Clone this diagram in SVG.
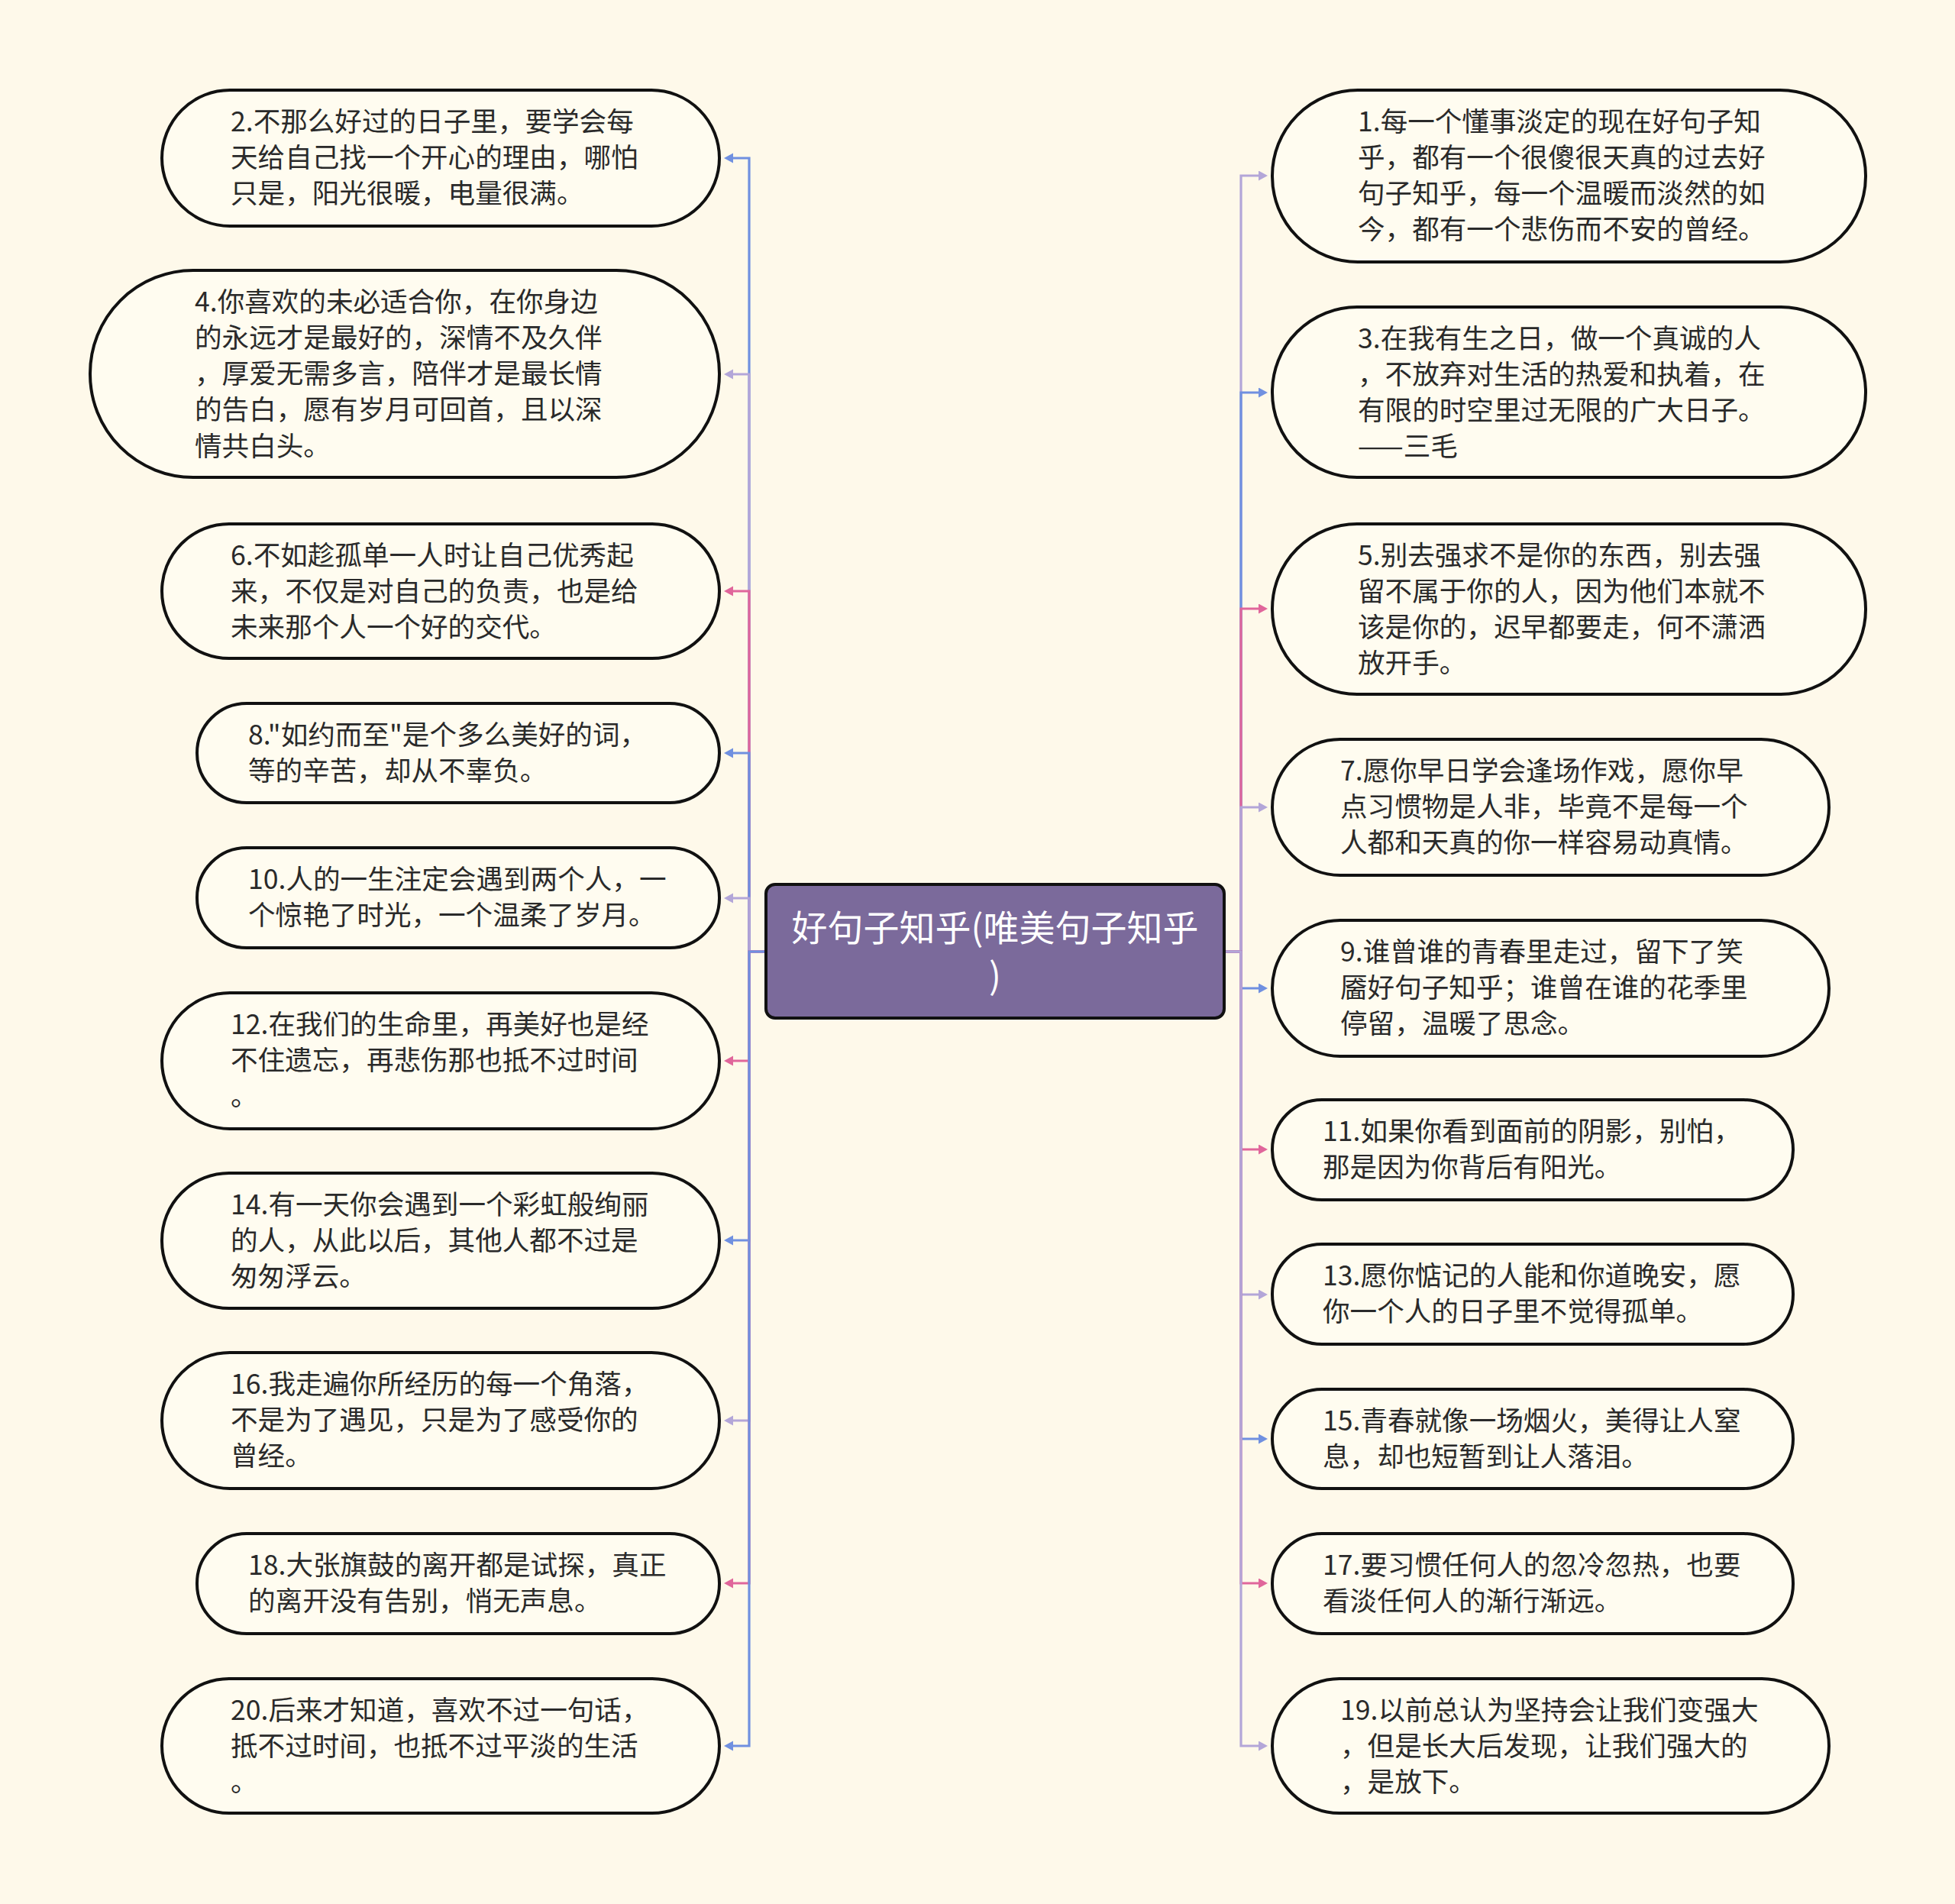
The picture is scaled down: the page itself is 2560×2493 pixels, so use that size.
<svg xmlns="http://www.w3.org/2000/svg" width="2560" height="2493" viewBox="0 0 2560 2493">
<defs>
<style>
.bg{fill:#fef9ea}
.node{fill:#fffcf0;stroke:#111;stroke-width:4}
.t{font-family:"Noto Sans CJK SC","Noto Sans",sans-serif;font-size:35.6px;fill:#2a2a2a}
.center rect{fill:#7b6a9b;stroke:#111;stroke-width:4}
.ct{font-family:"Noto Sans CJK SC","Noto Sans",sans-serif;font-size:47px;fill:#ffffff;text-anchor:middle}
.c{fill:none;stroke-width:3.2}
.blue{stroke:#7090e0}
.lav{stroke:#b3a6d8}
.pink{stroke:#e0669b}
</style>
<marker id="ab" markerUnits="userSpaceOnUse" markerWidth="13" markerHeight="14" refX="0" refY="6.5" orient="auto"><path d="M0,0 L12,6.5 L0,13 z" fill="#7090e0"/></marker>
<marker id="al" markerUnits="userSpaceOnUse" markerWidth="13" markerHeight="14" refX="0" refY="6.5" orient="auto"><path d="M0,0 L12,6.5 L0,13 z" fill="#b3a6d8"/></marker>
<marker id="ap" markerUnits="userSpaceOnUse" markerWidth="13" markerHeight="14" refX="0" refY="6.5" orient="auto"><path d="M0,0 L12,6.5 L0,13 z" fill="#e0669b"/></marker>
</defs>
<rect class="bg" x="0" y="0" width="2560" height="2493"/>
<g id="connectors">
<path class="c blue" marker-end="url(#ab)" d="M1003,1246 H981 V207 H960"/>
<path class="c lav" marker-end="url(#al)" d="M1003,1246 H981 V490 H960"/>
<path class="c pink" marker-end="url(#ap)" d="M1003,1246 H981 V774 H960"/>
<path class="c blue" marker-end="url(#ab)" d="M1003,1246 H981 V986 H960"/>
<path class="c lav" marker-end="url(#al)" d="M1003,1246 H981 V1176 H960"/>
<path class="c pink" marker-end="url(#ap)" d="M1003,1246 H981 V1389 H960"/>
<path class="c blue" marker-end="url(#ab)" d="M1003,1246 H981 V1624 H960"/>
<path class="c lav" marker-end="url(#al)" d="M1003,1246 H981 V1860 H960"/>
<path class="c pink" marker-end="url(#ap)" d="M1003,1246 H981 V2073 H960"/>
<path class="c blue" marker-end="url(#ab)" d="M1003,1246 H981 V2286 H960"/>
<path class="c lav" marker-end="url(#al)" d="M1603,1246 H1625 V230 H1648"/>
<path class="c blue" marker-end="url(#ab)" d="M1603,1246 H1625 V514 H1648"/>
<path class="c pink" marker-end="url(#ap)" d="M1603,1246 H1625 V797 H1648"/>
<path class="c lav" marker-end="url(#al)" d="M1603,1246 H1625 V1057 H1648"/>
<path class="c blue" marker-end="url(#ab)" d="M1603,1246 H1625 V1294 H1648"/>
<path class="c pink" marker-end="url(#ap)" d="M1603,1246 H1625 V1505 H1648"/>
<path class="c lav" marker-end="url(#al)" d="M1603,1246 H1625 V1695 H1648"/>
<path class="c blue" marker-end="url(#ab)" d="M1603,1246 H1625 V1884 H1648"/>
<path class="c pink" marker-end="url(#ap)" d="M1603,1246 H1625 V2073 H1648"/>
<path class="c lav" marker-end="url(#al)" d="M1603,1246 H1625 V2286 H1648"/>
</g>
<g id="center" class="center">
<rect x="1003" y="1158" width="600" height="175" rx="12"/>
<text class="ct" x="1303"><tspan x="1303" y="1232">好句子知乎(唯美句子知乎</tspan><tspan x="1303" y="1295">)</tspan></text>
</g>
<g id="n2"><rect class="node" x="212" y="118" width="730" height="178" rx="89"/>
<text class="t"><tspan x="302" y="171.5">2.不那么好过的日子里，要学会每</tspan><tspan x="302" y="218.8">天给自己找一个开心的理由，哪怕</tspan><tspan x="302" y="266.1">只是，阳光很暖，电量很满。</tspan></text></g>
<g id="n4"><rect class="node" x="118" y="354" width="824" height="271" rx="135"/>
<text class="t"><tspan x="255" y="407.5">4.你喜欢的未必适合你，在你身边</tspan><tspan x="255" y="454.8">的永远才是最好的，深情不及久伴</tspan><tspan x="255" y="502.1">，厚爱无需多言，陪伴才是最长情</tspan><tspan x="255" y="549.4">的告白，愿有岁月可回首，且以深</tspan><tspan x="255" y="596.7">情共白头。</tspan></text></g>
<g id="n6"><rect class="node" x="212" y="686" width="730" height="176" rx="88"/>
<text class="t"><tspan x="302" y="739.5">6.不如趁孤单一人时让自己优秀起</tspan><tspan x="302" y="786.8">来，不仅是对自己的负责，也是给</tspan><tspan x="302" y="834.1">未来那个人一个好的交代。</tspan></text></g>
<g id="n8"><rect class="node" x="258" y="921" width="684" height="130" rx="65"/>
<text class="t"><tspan x="325" y="974.5">8."如约而至"是个多么美好的词，</tspan><tspan x="325" y="1021.8">等的辛苦，却从不辜负。</tspan></text></g>
<g id="n10"><rect class="node" x="258" y="1110" width="684" height="131" rx="65"/>
<text class="t"><tspan x="325" y="1163.5">10.人的一生注定会遇到两个人，一</tspan><tspan x="325" y="1210.8">个惊艳了时光，一个温柔了岁月。</tspan></text></g>
<g id="n12"><rect class="node" x="212" y="1300" width="730" height="178" rx="89"/>
<text class="t"><tspan x="302" y="1353.5">12.在我们的生命里，再美好也是经</tspan><tspan x="302" y="1400.8">不住遗忘，再悲伤那也抵不过时间</tspan><tspan x="302" y="1448.1">。</tspan></text></g>
<g id="n14"><rect class="node" x="212" y="1536" width="730" height="177" rx="88"/>
<text class="t"><tspan x="302" y="1589.5">14.有一天你会遇到一个彩虹般绚丽</tspan><tspan x="302" y="1636.8">的人，从此以后，其他人都不过是</tspan><tspan x="302" y="1684.1">匆匆浮云。</tspan></text></g>
<g id="n16"><rect class="node" x="212" y="1771" width="730" height="178" rx="89"/>
<text class="t"><tspan x="302" y="1824.5">16.我走遍你所经历的每一个角落，</tspan><tspan x="302" y="1871.8">不是为了遇见，只是为了感受你的</tspan><tspan x="302" y="1919.1">曾经。</tspan></text></g>
<g id="n18"><rect class="node" x="258" y="2008" width="684" height="131" rx="65"/>
<text class="t"><tspan x="325" y="2061.5">18.大张旗鼓的离开都是试探，真正</tspan><tspan x="325" y="2108.8">的离开没有告别，悄无声息。</tspan></text></g>
<g id="n20"><rect class="node" x="212" y="2198" width="730" height="176" rx="88"/>
<text class="t"><tspan x="302" y="2251.5">20.后来才知道，喜欢不过一句话，</tspan><tspan x="302" y="2298.8">抵不过时间，也抵不过平淡的生活</tspan><tspan x="302" y="2346.1">。</tspan></text></g>
<g id="n1"><rect class="node" x="1666" y="118" width="777" height="225" rx="112"/>
<text class="t"><tspan x="1778" y="171.5">1.每一个懂事淡定的现在好句子知</tspan><tspan x="1778" y="218.8">乎，都有一个很傻很天真的过去好</tspan><tspan x="1778" y="266.1">句子知乎，每一个温暖而淡然的如</tspan><tspan x="1778" y="313.4">今，都有一个悲伤而不安的曾经。</tspan></text></g>
<g id="n3"><rect class="node" x="1666" y="402" width="777" height="223" rx="111"/>
<text class="t"><tspan x="1778" y="455.5">3.在我有生之日，做一个真诚的人</tspan><tspan x="1778" y="502.8">，不放弃对生活的热爱和执着，在</tspan><tspan x="1778" y="550.1">有限的时空里过无限的广大日子。</tspan><tspan x="1778" y="597.4">——三毛</tspan></text></g>
<g id="n5"><rect class="node" x="1666" y="686" width="777" height="223" rx="111"/>
<text class="t"><tspan x="1778" y="739.5">5.别去强求不是你的东西，别去强</tspan><tspan x="1778" y="786.8">留不属于你的人，因为他们本就不</tspan><tspan x="1778" y="834.1">该是你的，迟早都要走，何不潇洒</tspan><tspan x="1778" y="881.4">放开手。</tspan></text></g>
<g id="n7"><rect class="node" x="1666" y="968" width="729" height="178" rx="89"/>
<text class="t"><tspan x="1755" y="1021.5">7.愿你早日学会逢场作戏，愿你早</tspan><tspan x="1755" y="1068.8">点习惯物是人非，毕竟不是每一个</tspan><tspan x="1755" y="1116.1">人都和天真的你一样容易动真情。</tspan></text></g>
<g id="n9"><rect class="node" x="1666" y="1205" width="729" height="178" rx="89"/>
<text class="t"><tspan x="1755" y="1258.5">9.谁曾谁的青春里走过，留下了笑</tspan><tspan x="1755" y="1305.8">靥好句子知乎；谁曾在谁的花季里</tspan><tspan x="1755" y="1353.1">停留，温暖了思念。</tspan></text></g>
<g id="n11"><rect class="node" x="1666" y="1440" width="682" height="131" rx="65"/>
<text class="t"><tspan x="1732" y="1493.5">11.如果你看到面前的阴影，别怕，</tspan><tspan x="1732" y="1540.8">那是因为你背后有阳光。</tspan></text></g>
<g id="n13"><rect class="node" x="1666" y="1629" width="682" height="131" rx="65"/>
<text class="t"><tspan x="1732" y="1682.5">13.愿你惦记的人能和你道晚安，愿</tspan><tspan x="1732" y="1729.8">你一个人的日子里不觉得孤单。</tspan></text></g>
<g id="n15"><rect class="node" x="1666" y="1819" width="682" height="130" rx="65"/>
<text class="t"><tspan x="1732" y="1872.5">15.青春就像一场烟火，美得让人窒</tspan><tspan x="1732" y="1919.8">息，却也短暂到让人落泪。</tspan></text></g>
<g id="n17"><rect class="node" x="1666" y="2008" width="682" height="131" rx="65"/>
<text class="t"><tspan x="1732" y="2061.5">17.要习惯任何人的忽冷忽热，也要</tspan><tspan x="1732" y="2108.8">看淡任何人的渐行渐远。</tspan></text></g>
<g id="n19"><rect class="node" x="1666" y="2198" width="729" height="176" rx="88"/>
<text class="t"><tspan x="1755" y="2251.5">19.以前总认为坚持会让我们变强大</tspan><tspan x="1755" y="2298.8">，但是长大后发现，让我们强大的</tspan><tspan x="1755" y="2346.1">，是放下。</tspan></text></g>
</svg>
